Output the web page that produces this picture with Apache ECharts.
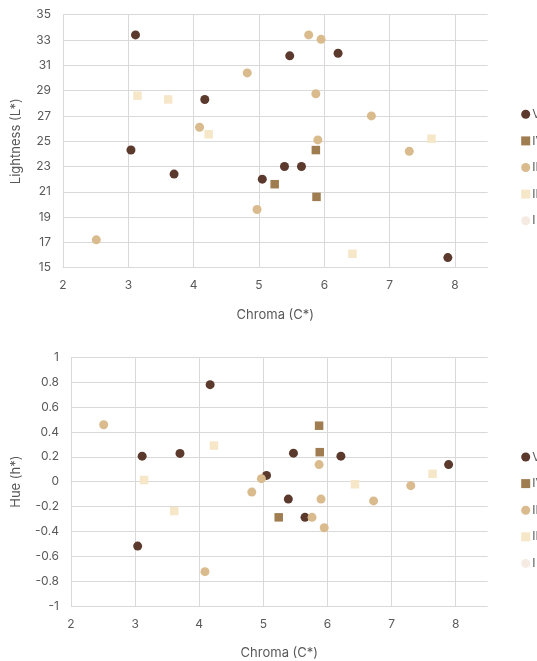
<!DOCTYPE html>
<html><head><meta charset="utf-8">
<script src="https://cdn.jsdelivr.net/npm/echarts@6/dist/echarts.min.js"></script>
<style>html,body{margin:0;padding:0;background:#fff}#c{width:537px;height:661px}</style>
</head><body><div id="c"></div>
<script>
// Data
const seriesNames = ['V', 'IV', 'III', 'II', 'I'];
const chromaV = [3.11, 4.17, 3.04, 3.70, 5.05, 5.47, 6.21, 5.39, 5.65, 7.89];
const lightnessV = [33.4, 28.3, 24.3, 22.4, 22.0, 31.75, 31.95, 23.0, 23.0, 15.8];
const hueV = [0.205, 0.78, -0.518, 0.227, 0.05, 0.229, 0.205, -0.14, -0.287, 0.137];
const chromaIV = [5.87, 5.24, 5.88];
const lightnessIV = [24.3, 21.6, 20.6];
const hueIV = [0.45, -0.287, 0.237];
const chromaIII = [4.82, 4.09, 4.97, 2.51, 5.76, 5.95, 5.87, 6.72, 5.90, 7.30];
const lightnessIII = [30.4, 26.1, 19.6, 17.2, 33.4, 33.05, 28.75, 27.0, 25.1, 24.2];
const hueIII = [-0.084, -0.724, 0.024, 0.458, -0.287, -0.371, 0.137, -0.155, -0.14, -0.032];
const chromaII = [3.14, 3.61, 4.23, 7.64, 6.43];
const lightnessII = [28.6, 28.3, 25.55, 25.2, 16.1];
const hueII = [0.013, -0.237, 0.29, 0.063, -0.021];
const chromaI = [];
const lightnessI = [];
const hueI = [];
const xTicks = [2, 3, 4, 5, 6, 7, 8];

const colors = {V:'#5b3a2d', IV:'#a07d50', III:'#d9bb8d', II:'#f6e7c9', I:'#f5ebe3'};
const symbols = {V:'circle', IV:'rect', III:'circle', II:'rect', I:'circle'};
const chroma = {V:chromaV, IV:chromaIV, III:chromaIII, II:chromaII, I:chromaI};
const light = {V:lightnessV, IV:lightnessIV, III:lightnessIII, II:lightnessII, I:lightnessI};
const hue = {V:hueV, IV:hueIV, III:hueIII, II:hueII, I:hueI};

const FONT = 'Inter';
const grey = '#595959';
const gridCol = '#d9d9d9';

function xAxis(gi){
  return {
    type:'value', gridIndex:gi, min:2, max:8.5, interval:1,
    name:'Chroma (C*)', nameLocation:'middle', nameGap:41,
    nameTextStyle:{color:grey, fontSize:13, fontFamily:FONT},
    axisLine:{show:true, lineStyle:{color:gridCol}},
    axisTick:{show:false},
    axisLabel:{color:grey, fontSize:12, fontFamily:FONT, margin:12,
      formatter:v=> xTicks.indexOf(v) >= 0 ? String(v) : ''},
    splitLine:{show:true, showMaxLine:false, lineStyle:{color:gridCol}}
  };
}

const series = [];
seriesNames.forEach(n=>{
  series.push({name:n, type:'scatter', xAxisIndex:0, yAxisIndex:0,
    symbol:symbols[n], symbolSize: symbols[n]==='rect'?8.5:9,
    itemStyle:{color:colors[n], opacity:1},
    data: chroma[n].map((c,i)=>[c, light[n][i]])});
});
seriesNames.forEach(n=>{
  series.push({name:n, type:'scatter', xAxisIndex:1, yAxisIndex:1,
    symbol:symbols[n], symbolSize: symbols[n]==='rect'?8.5:9,
    itemStyle:{color:colors[n], opacity:1},
    data: chroma[n].map((c,i)=>[c, hue[n][i]])});
});

const legendBase = {
  orient:'vertical', left:521.2, padding:0, itemWidth:9, itemHeight:9, itemGap:14.6,
  textStyle:{color:grey, fontSize:12, fontFamily:FONT, padding:[0,0,0,-3]},
  data: seriesNames.map(n=>({name:n, icon: symbols[n]==='rect'?'rect':'circle'}))
};

const option = {
  animation:false,
  backgroundColor:'#fff',
  grid:[
    {left:63, top:14.7, width:424.7, height:253},
    {left:71, top:357.3, width:416.7, height:253.4}
  ],
  legend:[
    Object.assign({}, legendBase, {top:108.3}),
    Object.assign({}, legendBase, {top:451})
  ],
  xAxis:[xAxis(0), xAxis(1)],
  yAxis:[
    {type:'value', gridIndex:0, min:15, max:35, interval:2,
     name:'Lightness (L*)', nameLocation:'middle', nameGap:40,
     nameTextStyle:{color:grey, fontSize:13, fontFamily:FONT},
     axisLine:{show:false}, axisTick:{show:false},
     axisLabel:{color:grey, fontSize:12, fontFamily:FONT, margin:12},
     splitLine:{show:true, lineStyle:{color:gridCol}}},
    {type:'value', gridIndex:1, min:-1, max:1, interval:0.2,
     name:'Hue (h*)', nameLocation:'middle', nameGap:48,
     nameTextStyle:{color:grey, fontSize:13, fontFamily:FONT},
     axisLine:{show:false}, axisTick:{show:false},
     axisLabel:{color:grey, fontSize:12, fontFamily:FONT, margin:12,
       formatter:v=>String(Math.round(v*10)/10)},
     splitLine:{show:true, lineStyle:{color:gridCol}}}
  ],
  series: series
};
const chart = echarts.init(document.getElementById('c'), null, {renderer:'canvas'});
chart.setOption(option);
</script></body></html>
